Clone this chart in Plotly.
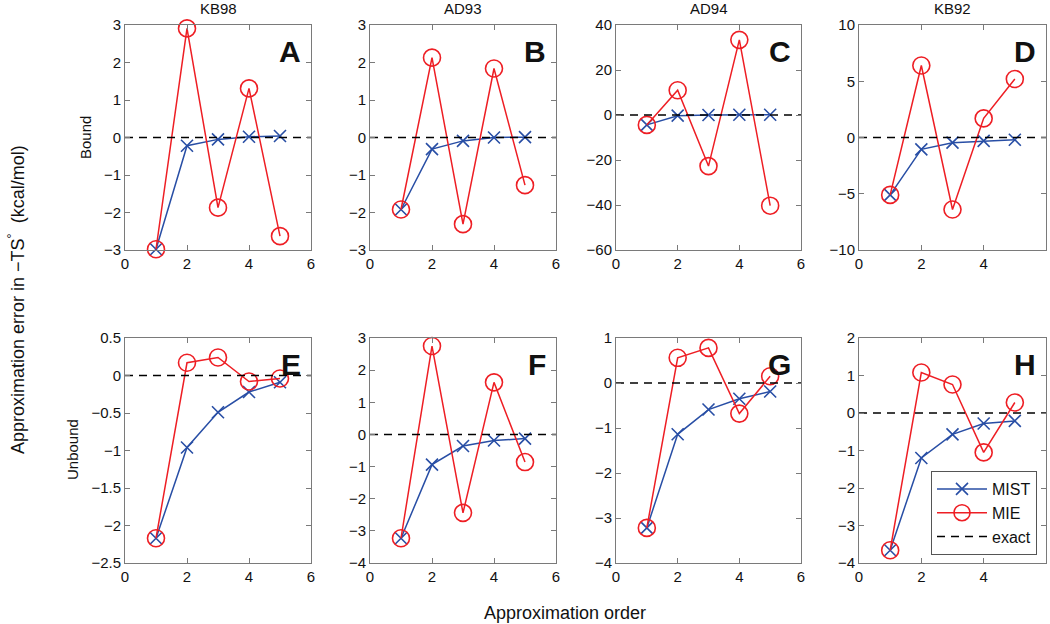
import plotly.graph_objects as go

# ---------------- data ----------------
orders = [1, 2, 3, 4, 5]
exact_x = [0, 6]
exact_y = [0, 0]

system_names = ["KB98", "AD93", "AD94", "KB92"]
row_labels = ["Bound", "Unbound"]
panel_letters = ["A", "B", "C", "D", "E", "F", "G", "H"]

# Bound row
mist_A = [-2.98, -0.22, -0.05, 0.02, 0.04]
mie_A = [-2.98, 2.91, -1.87, 1.31, -2.63]
mist_B = [-1.92, -0.31, -0.09, 0.0, 0.01]
mie_B = [-1.92, 2.13, -2.31, 1.84, -1.27]
mist_C = [-4.4, -0.3, 0.0, 0.1, 0.1]
mie_C = [-4.4, 11.0, -22.7, 33.4, -40.3]
mist_D = [-5.1, -1.05, -0.46, -0.3, -0.2]
mie_D = [-5.1, 6.4, -6.4, 1.7, 5.2]
# Unbound row
mist_E = [-2.17, -0.96, -0.49, -0.22, -0.09]
mie_E = [-2.17, 0.17, 0.24, -0.08, -0.04]
mist_F = [-3.23, -0.94, -0.36, -0.19, -0.13]
mie_F = [-3.23, 2.75, -2.44, 1.62, -0.86]
mist_G = [-3.22, -1.14, -0.59, -0.35, -0.19]
mie_G = [-3.22, 0.56, 0.78, -0.68, 0.15]
mist_H = [-3.66, -1.2, -0.57, -0.28, -0.21]
mie_H = [-3.66, 1.08, 0.76, -1.05, 0.28]

x_tickvals = [0, 2, 4, 6]
x_ticktext = ["0", "2", "4", "6"]

yticks_A = [-3, -2, -1, 0, 1, 2, 3]
yticks_B = [-3, -2, -1, 0, 1, 2, 3]
yticks_C = [-60, -40, -20, 0, 20, 40]
yticks_D = [-10, -5, 0, 5, 10]
yticks_E = [-2.5, -2, -1.5, -1, -0.5, 0, 0.5]
yticks_F = [-4, -3, -2, -1, 0, 1, 2, 3]
yticks_G = [-4, -3, -2, -1, 0, 1]
yticks_H = [-4, -3, -2, -1, 0, 1, 2]

mist_all = [mist_A, mist_B, mist_C, mist_D, mist_E, mist_F, mist_G, mist_H]
mie_all = [mie_A, mie_B, mie_C, mie_D, mie_E, mie_F, mie_G, mie_H]
yticks_all = [yticks_A, yticks_B, yticks_C, yticks_D, yticks_E, yticks_F, yticks_G, yticks_H]

# ---------------- styling ----------------
W, H = 1050, 624
FONT = "Liberation Sans, Arial, Helvetica, sans-serif"
BLUE = "rgb(40,78,165)"
RED = "rgb(238,30,36)"
AXC = "#7a7a7a"

col_px = [(125, 311), (370, 556), (616, 801), (859, 1046)]
row_px = [(25, 250), (338, 563)]


def fmt(v):
    s = ("%g" % v)
    return s.replace("-", "\u2212")


fig = go.Figure()
layout = dict(
    width=W, height=H,
    margin=dict(l=0, r=0, t=0, b=0, pad=0),
    paper_bgcolor="white", plot_bgcolor="white",
    font=dict(family=FONT, size=15, color="#111"),
    showlegend=True,
)
annotations = []

for i in range(8):
    r, c = divmod(i, 4)
    k = i + 1
    xs = "x" if k == 1 else f"x{k}"
    ys = "y" if k == 1 else f"y{k}"
    x0, x1 = col_px[c]
    y0, y1 = row_px[r]
    yt = yticks_all[i]
    show = (i == 7)

    fig.add_trace(go.Scatter(
        x=orders, y=mist_all[i], mode="lines+markers", name="MIST",
        xaxis=xs, yaxis=ys, cliponaxis=False, showlegend=show,
        line=dict(color=BLUE, width=1.5),
        marker=dict(symbol="x-thin", size=12, color=BLUE,
                    line=dict(color=BLUE, width=1.6)),
    ))
    fig.add_trace(go.Scatter(
        x=orders, y=mie_all[i], mode="lines+markers", name="MIE",
        xaxis=xs, yaxis=ys, cliponaxis=False, showlegend=show,
        line=dict(color=RED, width=1.5),
        marker=dict(symbol="circle-open", size=17, color=RED,
                    line=dict(color=RED, width=1.6)),
    ))
    fig.add_trace(go.Scatter(
        x=exact_x, y=exact_y, mode="lines", name="exact",
        xaxis=xs, yaxis=ys, showlegend=show,
        line=dict(color="black", width=1.5, dash="8px,6px"),
    ))

    ax_common = dict(
        showline=True, linecolor=AXC, linewidth=1, mirror="ticks",
        ticks="inside", ticklen=5, tickcolor=AXC, tickwidth=1,
        showgrid=False, zeroline=False, automargin=False,
        tickfont=dict(family=FONT, size=15, color="#111"),
    )
    layout["xaxis" if k == 1 else f"xaxis{k}"] = dict(
        ax_common, domain=[x0 / W, x1 / W], anchor=ys,
        range=[0, 6], tickvals=x_tickvals, ticktext=x_ticktext,
    )
    layout["yaxis" if k == 1 else f"yaxis{k}"] = dict(
        ax_common, domain=[1 - y1 / H, 1 - y0 / H], anchor=xs,
        range=[yt[0], yt[-1]], tickvals=yt, ticktext=[fmt(v) for v in yt],
    )

    annotations.append(dict(
        text=f"<b>{panel_letters[i]}</b>", xref=f"{xs} domain", yref=f"{ys} domain",
        x=0.955, y=0.965, xanchor="right", yanchor="top", showarrow=False,
        font=dict(family=FONT, size=30, color="#111"),
    ))

for c, name in enumerate(system_names):
    x0, x1 = col_px[c]
    annotations.append(dict(
        text=name, xref="paper", yref="paper", x=(x0 + x1) / 2 / W, y=1 - 8.5 / H,
        xanchor="center", yanchor="middle", showarrow=False,
        font=dict(family=FONT, size=15, color="#111"),
    ))

row_label_pos = [(85, 138), (72, 450)]
for lab, (px, py) in zip(row_labels, row_label_pos):
    annotations.append(dict(
        text=lab, xref="paper", yref="paper", x=px / W, y=1 - py / H,
        xanchor="center", yanchor="middle", textangle=-90, showarrow=False,
        font=dict(family=FONT, size=15, color="#111"),
    ))

annotations.append(dict(
    text="Approximation error in \u2212TS<sup>\u00b0</sup>  (kcal/mol)",
    xref="paper", yref="paper", x=16 / W, y=1 - 300 / H,
    xanchor="center", yanchor="middle", textangle=-90, showarrow=False,
    font=dict(family=FONT, size=18, color="#111"),
))
annotations.append(dict(
    text="Approximation order", xref="paper", yref="paper",
    x=565 / W, y=1 - 613 / H, xanchor="center", yanchor="middle", showarrow=False,
    font=dict(family=FONT, size=18, color="#111"),
))

layout["annotations"] = annotations
layout["legend"] = dict(
    x=1037 / W, y=1 - 555 / H, xanchor="right", yanchor="bottom",
    bgcolor="white", bordercolor="#555", borderwidth=1,
    font=dict(family=FONT, size=16, color="#111"),
    tracegroupgap=0, itemwidth=50,
)

fig.update_layout(**layout)
fig.write_html(
    "out.html",
    config={"displayModeBar": False},
    post_script="document.body.style.margin='0';document.body.style.overflow='hidden';",
)
